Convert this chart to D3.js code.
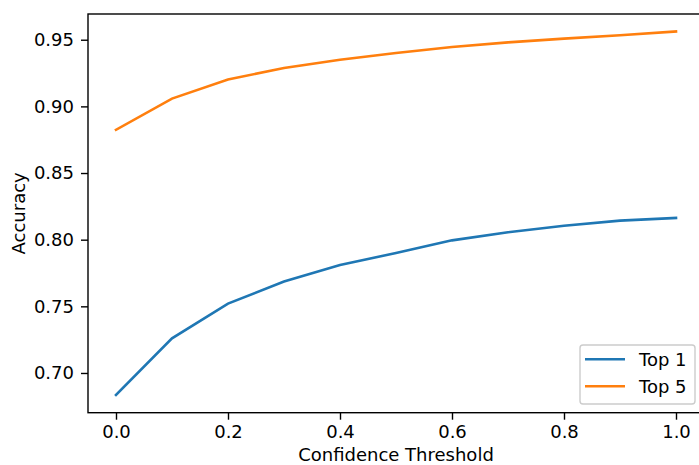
<!DOCTYPE html>
<html><head><meta charset="utf-8">
<script src="https://cdn.jsdelivr.net/npm/d3@7"></script>
<style>
html,body{margin:0;padding:0;background:#fff;overflow:hidden}
svg text{font-family:"DejaVu Sans",sans-serif;fill:#000}
</style></head>
<body><svg id="c" width="699" height="465"></svg>
<script>
const thresholds = [0.0,0.1,0.2,0.3,0.4,0.5,0.6,0.7,0.8,0.9,1.0];
const top1 = [0.6835,0.726,0.752,0.7686,0.781,0.790,0.7995,0.8056,0.8104,0.8143,0.8163];
const top5 = [0.8824,0.9058,0.9202,0.9288,0.9350,0.9400,0.9445,0.9480,0.9508,0.9534,0.9562];
const xTicks = [0.0,0.2,0.4,0.6,0.8,1.0];
const yTicks = [0.70,0.75,0.80,0.85,0.90,0.95];
const seriesNames = ["Top 1","Top 5"];
const colors = ["#1f77b4","#ff7f0e"];

const svg = d3.select("#c");
const L=88, R=704, T=14, B=412.7;
const x = d3.scaleLinear().domain([-0.05,1.05]).range([L,R]);
const y = d3.scaleLinear().domain([0.6702,0.9693]).range([B,T]);
const fs = 18;

const line = d3.line().x((d,i)=>x(thresholds[i])).y(d=>y(d));
[top1,top5].forEach((s,k)=>{
  svg.append("path").attr("d",line(s)).attr("fill","none")
    .attr("stroke",colors[k]).attr("stroke-width",2.6).attr("stroke-linecap","square");
});

// spines
svg.append("rect").attr("x",L).attr("y",T).attr("width",R-L).attr("height",B-T)
  .attr("fill","none").attr("stroke","#000").attr("stroke-width",1.4);

// x axis
const xa = svg.append("g").attr("transform",`translate(0,${B})`)
  .call(d3.axisBottom(x).tickValues(xTicks).tickFormat(d3.format(".1f")).tickSize(7).tickPadding(6).tickSizeOuter(0));
xa.select(".domain").remove();
xa.selectAll("line").attr("stroke","#000").attr("stroke-width",1.4);
xa.selectAll("text").attr("font-size",fs).attr("font-family","DejaVu Sans").attr("fill","#000");

// y axis
const ya = svg.append("g").attr("transform",`translate(${L},0)`)
  .call(d3.axisLeft(y).tickValues(yTicks).tickFormat(d3.format(".2f")).tickSize(7).tickPadding(7).tickSizeOuter(0));
ya.select(".domain").remove();
ya.selectAll("line").attr("stroke","#000").attr("stroke-width",1.4);
ya.selectAll("text").attr("font-size",fs).attr("font-family","DejaVu Sans").attr("fill","#000");

// labels
svg.append("text").attr("x",(L+R)/2).attr("y",461).attr("text-anchor","middle")
  .attr("font-size",fs).text("Confidence Threshold");
svg.append("text").attr("transform",`translate(25,${(T+B)/2}) rotate(-90)`).attr("text-anchor","middle")
  .attr("font-size",fs).text("Accuracy");

// legend
const lg = svg.append("g");
lg.append("rect").attr("x",580).attr("y",345).attr("width",115).attr("height",59).attr("rx",3)
  .attr("fill","#fff").attr("fill-opacity",0.8).attr("stroke","#cccccc").attr("stroke-width",1.4);
seriesNames.forEach((n,k)=>{
  const yy = 359.3 + k*27;
  lg.append("line").attr("x1",585).attr("x2",625).attr("y1",yy).attr("y2",yy)
    .attr("stroke",colors[k]).attr("stroke-width",2.6);
  lg.append("text").attr("x",639).attr("y",yy+6.5).attr("font-size",fs).text(n);
});
</script></body></html>
